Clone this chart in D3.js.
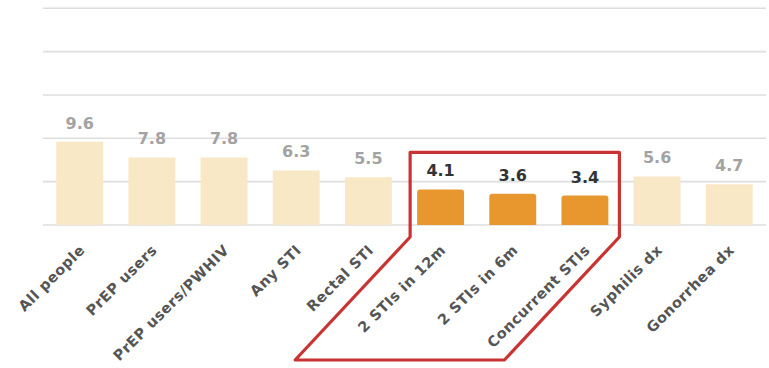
<!DOCTYPE html>
<html>
<head>
<meta charset="utf-8">
<script src="https://cdn.jsdelivr.net/npm/d3@7"></script>
<style>
  html, body { margin: 0; padding: 0; background: #fff; }
  svg { display: block; }
</style>
</head>
<body>
<svg id="chart" width="769" height="368"></svg>
<script>
// Rate per category (values printed above each bar)
const categories = [
  "All people", "PrEP users", "PrEP users/PWHIV", "Any STI", "Rectal STI",
  "2 STIs in 12m", "2 STIs in 6m", "Concurrent STIs", "Syphilis dx", "Gonorrhea dx"
];
const values = [9.6, 7.8, 7.8, 6.3, 5.5, 4.1, 3.6, 3.4, 5.6, 4.7];
const highlighted = ["2 STIs in 12m", "2 STIs in 6m", "Concurrent STIs"];
const yTicks = [0, 5, 10, 15, 20, 25];

(function () {
  const data = categories.map((c, i) => ({ cat: c, v: values[i], hi: highlighted.includes(c) }));

  const svg = d3.select("#chart");
  const mLeft = 43, mRight = 766, mTop = 8.3, mBottom = 225;

  const x = d3.scaleBand().domain(categories).range([mLeft, mRight])
    .paddingInner(0.35).paddingOuter(0.184);
  const y = d3.scaleLinear().domain([0, 25]).range([mBottom, mTop]);

  // Horizontal gridlines
  svg.append("g")
    .selectAll("line")
    .data(yTicks)
    .join("line")
    .attr("x1", mLeft).attr("x2", mRight)
    .attr("y1", d => y(d)).attr("y2", d => y(d))
    .attr("stroke", "#dedede")
    .attr("stroke-width", 1.6);

  // Bars (highlighted ones get rounded top corners)
  svg.append("g")
    .selectAll("path")
    .data(data)
    .join("path")
    .attr("fill", d => d.hi ? "#e8972f" : "#f8e8c6")
    .attr("d", d => {
      const x0 = x(d.cat), w = x.bandwidth(), y0 = y(d.v), y1 = y(0);
      const r = d.hi ? 3 : 0;
      return `M${x0},${y1}V${y0 + r}Q${x0},${y0} ${x0 + r},${y0}H${x0 + w - r}Q${x0 + w},${y0} ${x0 + w},${y0 + r}V${y1}Z`;
    });

  // Value labels
  svg.append("g")
    .selectAll("text")
    .data(data)
    .join("text")
    .attr("x", d => x(d.cat) + x.bandwidth() / 2)
    .attr("y", d => y(d.v) - 13)
    .attr("text-anchor", "middle")
    .attr("font-family", "DejaVu Sans, sans-serif")
    .attr("font-weight", "bold")
    .attr("font-size", 16)
    .attr("fill", d => d.hi ? "#333" : "#a3a3a3")
    .text(d => d.v.toFixed(1));

  // Category labels, rotated
  const xAxis = d3.axisBottom(x).tickSize(0).tickPadding(0);
  const gx = svg.append("g").attr("transform", `translate(0,${mBottom})`).call(xAxis);
  gx.select(".domain").remove();
  gx.selectAll(".tick text")
    .attr("font-family", "DejaVu Sans, sans-serif")
    .attr("font-weight", "bold")
    .attr("font-size", 14.5)
    .attr("letter-spacing", 0.5)
    .attr("fill", "#555")
    .attr("text-anchor", "end")
    .attr("dy", null)
    .attr("y", null)
    .attr("transform", "translate(6,26) rotate(-45)");

  // Outline grouping the highlighted categories
  const hx0 = x(highlighted[0]) - 7;
  const hx1 = x(highlighted[highlighted.length - 1]) + x.bandwidth() + 11;
  const hTop = y(d3.max(data.filter(d => d.hi), d => d.v)) - 37;
  const hMid = mBottom + 12;
  const hBot = 360;
  const slant = 115;
  const outline = d3.path();
  outline.moveTo(hx0, hTop);
  outline.lineTo(hx1, hTop);
  outline.lineTo(hx1, hMid);
  outline.lineTo(hx1 - slant, hBot);
  outline.lineTo(hx0 - slant, hBot);
  outline.lineTo(hx0, hMid);
  outline.closePath();
  svg.append("path")
    .attr("d", outline.toString())
    .attr("fill", "none")
    .attr("stroke", "#c93432")
    .attr("stroke-width", 3.2)
    .attr("stroke-linejoin", "round");
})();
</script>
</body>
</html>
